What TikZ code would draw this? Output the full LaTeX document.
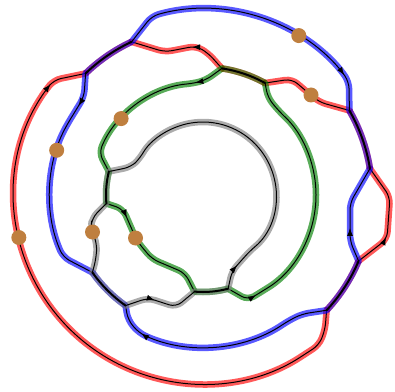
\documentclass[tikz,border=0pt]{standalone}
\usepackage{xcolor}
\usetikzlibrary{arrows.meta, calc, decorations.markings}
\definecolor{beadbrown}{HTML}{BF7F3F}
\colorlet{grn}{green!50!black}

\begin{document}
\begin{tikzpicture}[x=1pt, y=1pt,
  strand/.style={draw=black, line width=1pt, line join=round, rounded corners=7pt,
                 preaction={draw=#1, line width=6.5pt, opacity=0.65, line cap=round}},
  twin/.style 2 args={draw=black, line width=2pt, line cap=round,
                 preaction={draw=#1, line width=6.5pt, opacity=0.6},
                 preaction={draw=#2, line width=6.5pt, opacity=0.55}},
  arrowat/.style={postaction={decorate, decoration={markings,
                 mark=at position #1 with {\arrow{Latex[length=8pt, width=6pt]}}}}},
  bead/.style={circle, fill=beadbrown, inner sep=0pt, minimum size=15pt}
]
  \useasboundingbox (0,0) rectangle (395,391);

  \coordinate (C)  at (203,196);
  \coordinate (P1) at ($(C)+(134:169)$);
  \coordinate (P2) at ($(C)+(115:169)$);
  \coordinate (P3) at ($(C)+(30:169)$);
  \coordinate (P4) at ($(C)+(9:169)$);
  \coordinate (P5) at ($(C)+(-23:169)$);
  \coordinate (P6) at ($(C)+(-43:169)$);
  \coordinate (O1) at ($(C)+(81.5:128)$);
  \coordinate (O2) at ($(C)+(61:128)$);
  \coordinate (K1) at ($(C)+(215:135)$);
  \coordinate (K2) at ($(C)+(235:135)$);
  \coordinate (G1) at ($(C)+(166:97)$);
  \coordinate (G2) at ($(C)+(185:97)$);
  \coordinate (G3) at ($(C)+(265:97)$);
  \coordinate (G4) at ($(C)+(285:97)$);

  % red
  \draw[strand=red, arrowat=0.38] (O1) -- (208,338) -- (196,345) -- (165,339) -- (P2);
  \draw[strand=red] (O2) -- (292,312) -- (319,289) -- (P3);
  \draw[strand=red, arrowat=0.33] (P5) -- (387,152) -- (390,194) -- (P4);
  \draw[strand=red, arrowat=0.065] (P1) -- (54,311) -- ($(C)+(146:189)$)
    arc[start angle=146, end angle=303, radius=189] -- (319,46) -- (325,61) -- (P6);

  % blue
  \draw[strand=blue, arrowat=0.87] (P2) -- ($(C)+(106:186)$)
    arc[start angle=106, end angle=42, radius=186] -- (349,309) -- (P3);
  \draw[strand=blue, arrowat=0.15] (P1) -- (84,294) -- ($(C)+(152:153)$)
    arc[start angle=152, end angle=204, radius=153] -- (K1);
  \draw[strand=blue, arrowat=0.35] (P5) -- (350,150) -- (350,188) -- (P4);
  \draw[strand=blue, arrowat=0.855] (P6) -- (302,77) -- ($(C)+(304:152)$)
    arc[start angle=304, end angle=245, radius=152] -- (128,71) -- (K2);

  % green
  \draw[strand=grn, arrowat=0.18] (O1) -- (206,311) -- ($(C)+(95:112)$)
    arc[start angle=95, end angle=158, radius=112] -- (G1);
  \draw[strand=grn, arrowat=0.2] (G2) -- (123,182) -- (137,150) -- (152,132) -- (185,118) -- (G3);
  \draw[strand=grn, arrowat=0.11] (G4) -- (248,91) -- ($(C)+(-58:113)$)
    arc[start angle=-58, end angle=47, radius=113] -- (268,293) -- (O2);

  % gray
  \draw[strand=gray, arrowat=0.075] (G4) -- (232,120) -- ($(C)+(-50:73)$)
    arc[start angle=-50, end angle=150, radius=73] -- (131,224) -- (G1);
  \draw[strand=gray] (G2) -- (92,173) -- (91,163) -- (97,147) -- (96,132) -- (K1);
  \draw[strand=gray, arrowat=0.4] (K2) -- (148,93) -- (176,84) -- (G3);

  % shared stretches
  \draw[twin={red}{blue}] (P2) arc[start angle=115, end angle=134, radius=169];
  \draw[twin={red}{grn}]  (O1) arc[start angle=81.5, end angle=61, radius=128];
  \draw[twin={red}{blue}] (P3) arc[start angle=30, end angle=9, radius=169];
  \draw[twin={red}{blue}] (P5) arc[start angle=-23, end angle=-43, radius=169];
  \draw[twin={blue}{gray}] (K1) arc[start angle=215, end angle=235, radius=135];
  \draw[twin={grn}{gray}] (G1) arc[start angle=166, end angle=185, radius=97];
  \draw[twin={grn}{gray}] (G3) arc[start angle=265, end angle=285, radius=97];

  % beads
  \node[bead] (b1) at ($(C)+(59:186)$) {};
  \node[bead] (b2) at (311,296) {};
  \node[bead] (b3) at ($(C)+(137:112)$) {};
  \node[bead] (b4) at ($(C)+(163:153)$) {};
  \node[bead] (b5) at ($(C)+(193:189)$) {};
  \node[bead] (b6) at (92.5,159) {};
  \node[bead] (b7) at (135.5,153) {};
\end{tikzpicture}
\end{document}
